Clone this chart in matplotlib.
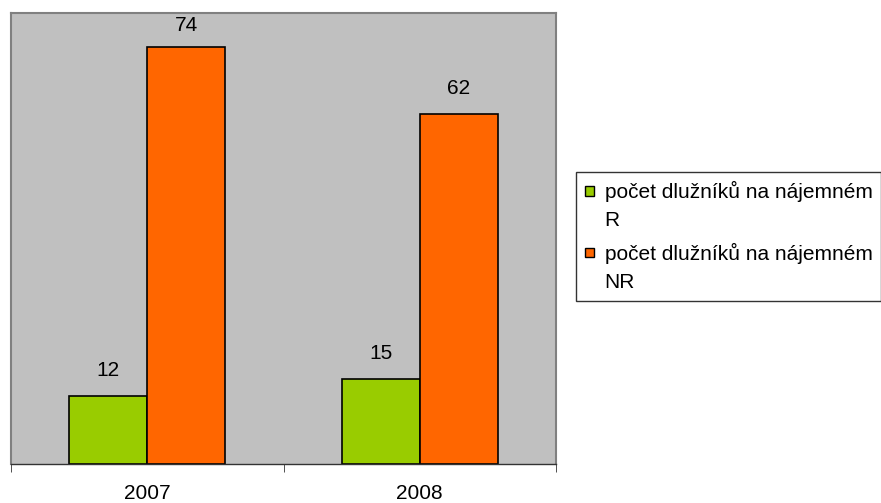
import matplotlib
matplotlib.use("Agg")
import matplotlib.pyplot as plt
from matplotlib.patches import Patch, Rectangle
from matplotlib.legend_handler import HandlerPatch
import numpy as np

plt.rcParams['font.family'] = ['Liberation Sans', 'DejaVu Sans']

categories = ["2007", "2008"]
series_names = ["počet dlužníků na nájemném\nR", "počet dlužníků na nájemném\nNR"]
values_R = [12, 15]
values_NR = [74, 62]
colors = ["#99CC00", "#FF6600"]

FS = 15
DPI = 100
YMAX = 80

fig = plt.figure(figsize=(8.81, 5.03), dpi=DPI)
ax_h_px = 451
ax = fig.add_axes([11/881, 39/503, 545/881, ax_h_px/503])
ax.set_facecolor("#C0C0C0")

x = np.arange(len(categories))
w = 1 / 3.5
b1 = ax.bar(x - w/2, values_R, width=w, color=colors[0], edgecolor="black", linewidth=1.2)
b2 = ax.bar(x + w/2, values_NR, width=w, color=colors[1], edgecolor="black", linewidth=1.2)

px_per_unit = ax_h_px / YMAX
for bars in (b1, b2):
    for r in bars:
        v = r.get_height()
        xc = r.get_x() + r.get_width() / 2
        room_px = (YMAX - v) * px_per_unit
        off_px = min(20, room_px - 18)
        ax.annotate(f"{v:g}", xy=(xc, v), xytext=(0, off_px * 72 / DPI),
                    textcoords='offset points', ha='center', va='baseline',
                    fontsize=FS)

ax.set_xlim(-0.5, len(categories) - 0.5)
ax.set_ylim(0, YMAX)
ax.set_yticks([])
ax.set_xticks(x)
ax.set_xticklabels(categories, fontsize=FS)
ax.tick_params(axis='x', which='major', length=0, pad=14.5)
ax.set_xticks(np.arange(-0.5, len(categories)), minor=True)
ax.tick_params(axis='x', which='minor', length=6, direction='out', color='#333333')

for s in ['top', 'left', 'right']:
    ax.spines[s].set_color('#808080')
    ax.spines[s].set_linewidth(1.5)
ax.spines['bottom'].set_color('#333333')
ax.spines['bottom'].set_linewidth(1.0)


def square_top(legend, orig_handle, xdescent, ydescent, width, height, fontsize):
    s = width
    return Rectangle((-xdescent, -ydescent + 10.5 - (s - height) / 2), s, s)


handles = [Patch(facecolor=c, edgecolor='black', linewidth=1.0) for c in colors]
leg = fig.legend(handles, series_names, loc='upper left',
                 bbox_to_anchor=(576/881, 1 - 172/503), fontsize=FS,
                 frameon=True, fancybox=False, borderpad=0.42, borderaxespad=0,
                 handlelength=0.45, handleheight=0.45, handletextpad=0.5,
                 labelspacing=0.6,
                 handler_map={Patch: HandlerPatch(patch_func=square_top)})
leg.get_frame().set_edgecolor('black')
leg.get_frame().set_linewidth(1.0)
for t in leg.get_texts():
    t.set_linespacing(1.62)

fig.savefig("out.png", dpi=DPI)
